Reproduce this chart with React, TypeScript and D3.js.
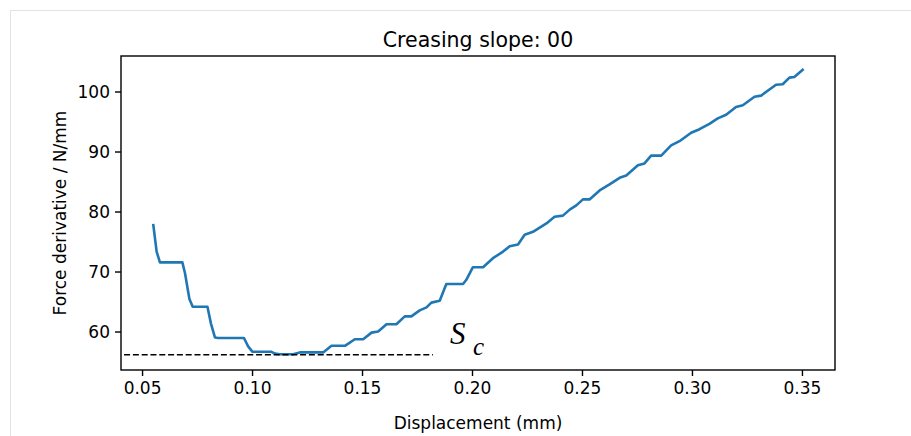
import React from "react";
import * as d3 from "d3";

const displacement = [
  0.0549, 0.0564, 0.0579, 0.0681, 0.0693, 0.0713, 0.0728, 0.0795, 0.0811, 0.0829,
  0.0844, 0.0961, 0.098, 0.1, 0.1086, 0.1102, 0.1124, 0.1185, 0.1215, 0.1321,
  0.1359, 0.142, 0.1465, 0.1503, 0.1541, 0.1571, 0.1609, 0.1654, 0.1692, 0.1722,
  0.176, 0.1791, 0.1813, 0.1851, 0.1881, 0.1957, 0.1972, 0.2002, 0.2048, 0.2093,
  0.2139, 0.2169, 0.2207, 0.2237, 0.2275, 0.2336, 0.2373, 0.2411, 0.2442, 0.2472,
  0.2502, 0.2532, 0.2578, 0.2623, 0.2669, 0.2699, 0.2752, 0.2782, 0.2812, 0.2858,
  0.2903, 0.2941, 0.2994, 0.3032, 0.3077, 0.3115, 0.3153, 0.3198, 0.3229, 0.3282,
  0.3312, 0.338, 0.341, 0.3441, 0.3463, 0.3501,
];
const forceDerivative = [
  77.8, 73.4, 71.6, 71.6, 69.8, 65.5, 64.2, 64.2, 61.4, 59.1,
  59.0, 59.0, 57.6, 56.7, 56.7, 56.4, 56.3, 56.3, 56.6, 56.6,
  57.7, 57.7, 58.8, 58.8, 59.9, 60.1, 61.3, 61.3, 62.6, 62.6,
  63.6, 64.1, 64.9, 65.2, 68.0, 68.0, 68.7, 70.8, 70.8, 72.3,
  73.4, 74.3, 74.6, 76.2, 76.7, 78.1, 79.2, 79.4, 80.4, 81.1,
  82.1, 82.1, 83.6, 84.6, 85.7, 86.1, 87.8, 88.1, 89.4, 89.4,
  91.1, 91.8, 93.2, 93.8, 94.7, 95.6, 96.2, 97.5, 97.8, 99.2,
  99.4, 101.2, 101.3, 102.4, 102.5, 103.7,
];
const scLineX = [0.0416, 0.182];
const scLineY = 56.2;
const xTicks = [0.05, 0.1, 0.15, 0.2, 0.25, 0.3, 0.35];
const yTicks = [60, 70, 80, 90, 100];
const xDomain = [0.0402, 0.3648];
const yDomain = [53.67, 106.0];

export default function App() {
  const W = 911, H = 436;
  const L = 121, R = 835, T = 56, B = 370;
  const x = d3.scaleLinear().domain(xDomain).range([L, R]);
  const y = d3.scaleLinear().domain(yDomain).range([B, T]);
  const pts = displacement.map((d, i) => [d, forceDerivative[i]] as [number, number]);
  const line = d3.line<[number, number]>().x(d => x(d[0])).y(d => y(d[1]));
  const font = "'DejaVu Sans', sans-serif";
  return (
    <svg width={W} height={H} style={{ position: "absolute", left: 0, top: 0, background: "#fff" }}>
      <rect x={10.5} y={10.5} width={W + 20} height={H + 20} fill="none" stroke="#e3e3e3" strokeWidth={1} />
      <text x={(L + R) / 2} y={47} textAnchor="middle" fontFamily={font} fontSize={20.5} fill="#000">
        Creasing slope: 00
      </text>
      <path d={line(pts) || ""} fill="none" stroke="#1f77b4" strokeWidth={2.6} strokeLinejoin="round" strokeLinecap="square" />
      <line x1={x(scLineX[0])} x2={x(scLineX[1])} y1={y(scLineY)} y2={y(scLineY)} stroke="#000" strokeWidth={1.5} strokeDasharray="6,2.8" />
      <text x={450} y={344} fontFamily="'Liberation Serif', serif" fontStyle="italic" fontSize={31} fill="#000">S</text>
      <text x={473} y={355} fontFamily="'Liberation Serif', serif" fontStyle="italic" fontSize={25} fill="#000">c</text>
      <rect x={L} y={T} width={R - L} height={B - T} fill="none" stroke="#000" strokeWidth={1.4} />
      {xTicks.map(t => (
        <g key={"x" + t}>
          <line x1={x(t)} x2={x(t)} y1={B} y2={B + 6} stroke="#000" strokeWidth={1.4} />
          <text x={x(t)} y={B + 24} textAnchor="middle" fontFamily={font} fontSize={17} fill="#000">
            {t.toFixed(2)}
          </text>
        </g>
      ))}
      {yTicks.map(t => (
        <g key={"y" + t}>
          <line x1={L - 6} x2={L} y1={y(t)} y2={y(t)} stroke="#000" strokeWidth={1.4} />
          <text x={L - 11} y={y(t)} dy="0.36em" textAnchor="end" fontFamily={font} fontSize={17} fill="#000">
            {t}
          </text>
        </g>
      ))}
      <text x={(L + R) / 2} y={429} textAnchor="middle" fontFamily={font} fontSize={17} fill="#000">
        Displacement (mm)
      </text>
      <text transform={`translate(66,${(T + B) / 2}) rotate(-90)`} textAnchor="middle" fontFamily={font} fontSize={17} fill="#000">
        Force derivative / N/mm
      </text>
    </svg>
  );
}
